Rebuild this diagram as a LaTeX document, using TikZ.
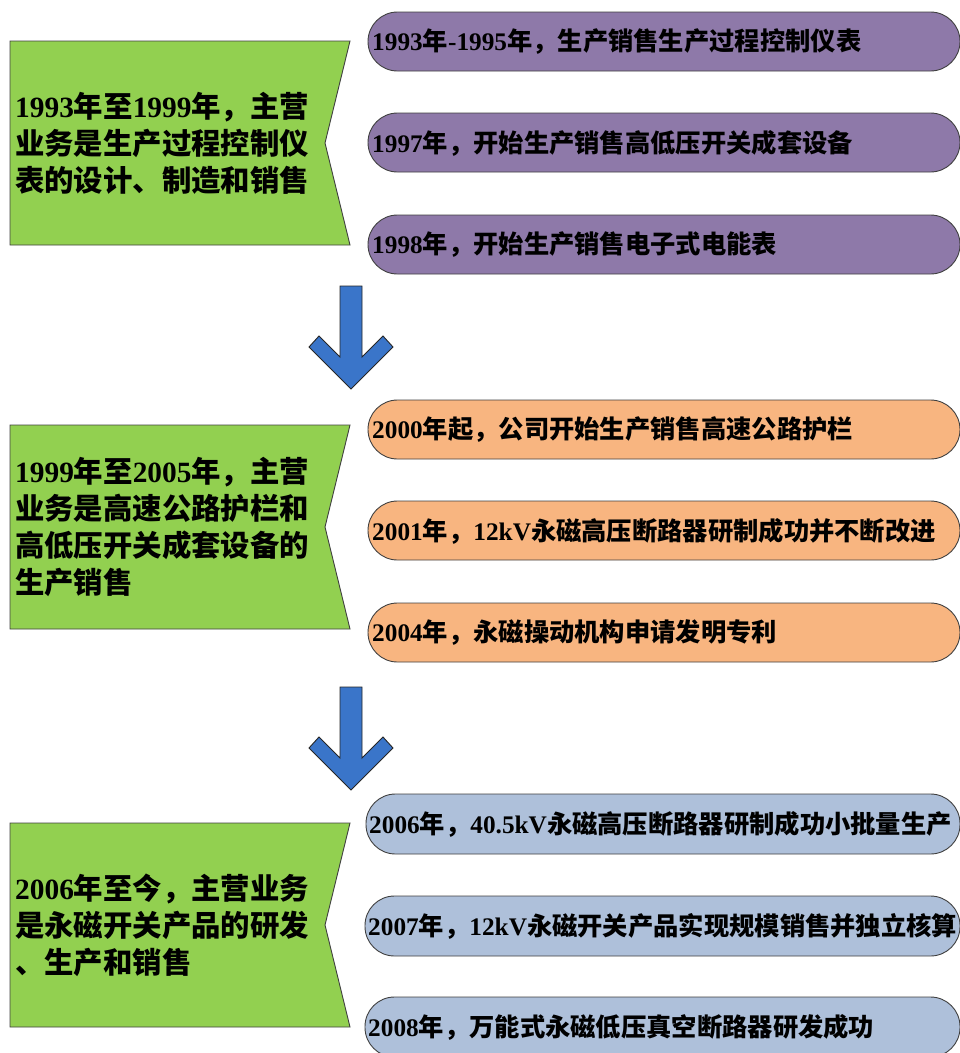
\documentclass[tikz,border=0pt]{standalone}
\usepackage{fontspec}
\setmainfont{Noto Sans CJK SC}
\newfontfamily\latnfont{Liberation Serif}[UprightFont={* Bold}, BoldFont={* Bold}]
\newcommand\latn[1]{{\latnfont #1}}
\definecolor{gfill}{HTML}{92D050}
\definecolor{pfill}{HTML}{8E79A9}
\definecolor{ofill}{HTML}{F8B580}
\definecolor{bfill}{HTML}{AEC0DA}
\definecolor{afill}{HTML}{3A75C9}
\definecolor{edge}{HTML}{404040}
\tikzset{
  banner/.style={draw=edge, line width=0.9pt, fill=gfill},
  pill/.style={draw=edge, line width=0.9pt, rounded corners=29.5pt},
  downarrow/.style={draw=black!85, line width=0.9pt, fill=afill},
  gtext/.style={anchor=west, align=left, inner sep=0pt, font=\bfseries\fontsize{29.4}{37}\selectfont},
  ptext/.style={anchor=west, inner sep=0pt, font=\bfseries\fontsize{25.3}{30}\selectfont},
}
\begin{document}
\begin{tikzpicture}[x=1pt,y=-1pt]
\useasboundingbox (0,0) rectangle (960,1053);
% ---------- group 1 ----------
\draw[banner] (10,41) -- (350,41) -- (325,143) -- (350,245) -- (10,245) -- cycle;
\node[gtext] (g1) at (15,143) {\latn{1993}年至\latn{1999}年，主营\\业务是生产过程控制仪\\表的设计、制造和销售};
\draw[pill, fill=pfill] (368,12) rectangle (960,71);
\draw[pill, fill=pfill] (368,113) rectangle (960,172);
\draw[pill, fill=pfill] (368,215) rectangle (960,274);
\node[ptext] (p11) at (372,42) {\latn{1993}年\latn{-1995}年，生产销售生产过程控制仪表};
\node[ptext] (p12) at (372,143) {\latn{1997}年，开始生产销售高低压开关成套设备};
\node[ptext] (p13) at (372,245) {\latn{1998}年，开始生产销售电子式电能表};
% arrow 1
\draw[downarrow] (340,286) -- (362,286) -- (362,357) -- (383,336) -- (393,347) -- (351,389) -- (309,347) -- (319,336) -- (340,357) -- cycle;
% ---------- group 2 ----------
\draw[banner] (10,425) -- (350,425) -- (325,527) -- (350,629) -- (10,629) -- cycle;
\node[gtext] (g2) at (15,527) {\latn{1999}年至\latn{2005}年，主营\\业务是高速公路护栏和\\高低压开关成套设备的\\生产销售};
\draw[pill, fill=ofill] (368,400) rectangle (960,459);
\draw[pill, fill=ofill] (368,501) rectangle (960,560);
\draw[pill, fill=ofill] (368,603) rectangle (960,662);
\node[ptext] (p21) at (372,430) {\latn{2000}年起，公司开始生产销售高速公路护栏};
\node[ptext] (p22) at (372,531) {\latn{2001}年，\latn{12kV}永磁高压断路器研制成功并不断改进};
\node[ptext] (p23) at (372,633) {\latn{2004}年，永磁操动机构申请发明专利};
% arrow 2
\draw[downarrow] (340,687) -- (362,687) -- (362,758) -- (383,737) -- (393,748) -- (351,790) -- (309,748) -- (319,737) -- (340,758) -- cycle;
% ---------- group 3 ----------
\draw[banner] (10,823) -- (350,823) -- (325,925) -- (350,1027) -- (10,1027) -- cycle;
\node[gtext] (g3) at (15,925) {\latn{2006}年至今，主营业务\\是永磁开关产品的研发\\、生产和销售};
\draw[pill, fill=bfill] (366,794) rectangle (960,854);
\draw[pill, fill=bfill] (365,896) rectangle (960,956);
\draw[pill, fill=bfill] (365,997) rectangle (960,1057);
\node[ptext] (p31) at (369,824) {\latn{2006}年，\latn{40.5kV}永磁高压断路器研制成功小批量生产};
\node[ptext] (p32) at (368,926) {\latn{2007}年，\latn{12kV}永磁开关产品实现规模销售并独立核算};
\node[ptext] (p33) at (368,1027) {\latn{2008}年，万能式永磁低压真空断路器研发成功};
\end{tikzpicture}
\end{document}
